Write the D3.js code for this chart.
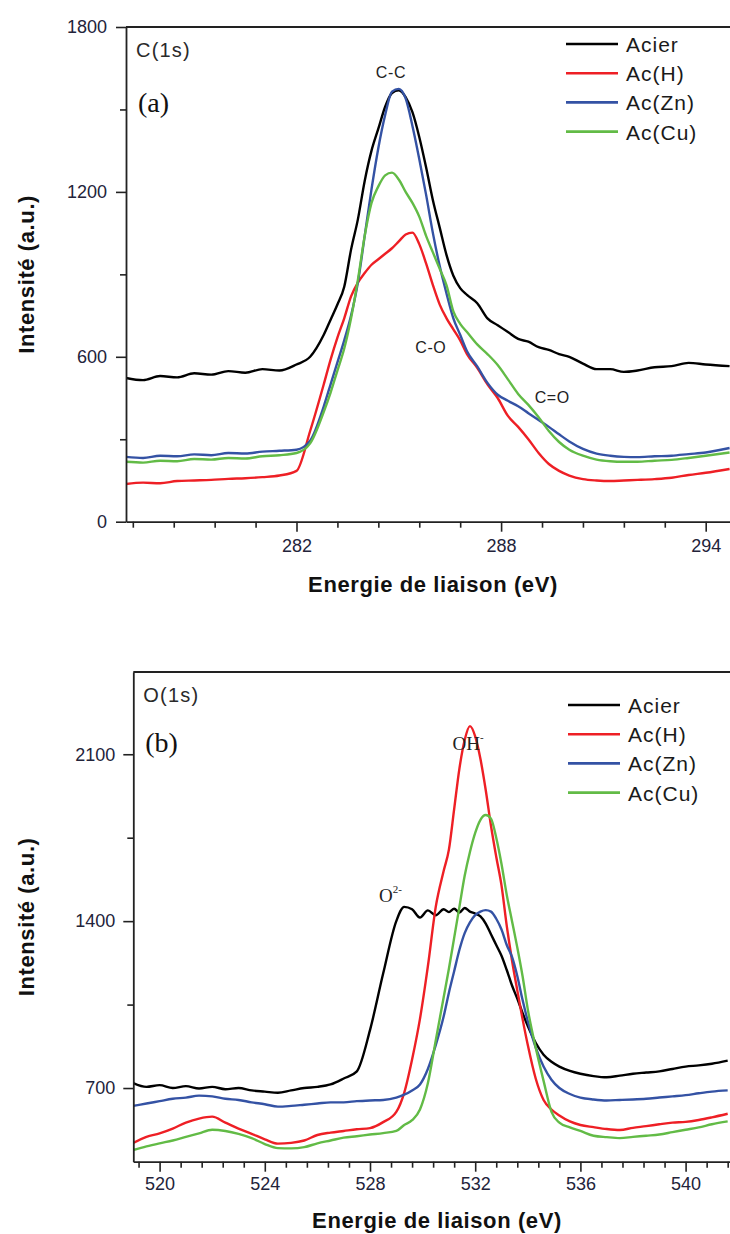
<!DOCTYPE html>
<html>
<head>
<meta charset="utf-8">
<script src="https://cdn.jsdelivr.net/npm/d3@7/dist/d3.min.js"></script>
<style>
  body { margin: 0; background: #fff; }
  svg { display: block; font-family: "Liberation Sans", Arial, sans-serif; }
</style>
</head>
<body>
<div id="chart"></div>
<script>
// ---- data ----
const seriesNames = ["Acier", "Ac(H)", "Ac(Zn)", "Ac(Cu)"];
const seriesColors = ["#000000", "#ee1f25", "#3452a4", "#62bb46"];

// (a) C 1s
const energyA = [277, 277.5, 278, 278.5, 279, 279.5, 280, 280.5, 281, 281.5, 282, 282.4, 282.8,
  283, 283.2, 283.4, 283.6, 283.8, 284, 284.2, 284.4, 284.6, 284.8, 285, 285.2, 285.4, 285.6,
  285.8, 286, 286.2, 286.4, 286.6, 286.8, 287, 287.3, 287.6, 287.9, 288.2, 288.5, 288.8, 289.1,
  289.4, 289.7, 290, 290.4, 290.8, 291.2, 291.6, 292, 292.5, 293, 293.5, 294, 294.7];
const acierA = [523, 515, 530, 525, 540, 535, 548, 542, 555, 550, 572, 600, 680,
  735, 790, 855, 990, 1100, 1240, 1350, 1430, 1510, 1560, 1570, 1545, 1490, 1400,
  1290, 1170, 1070, 970, 895, 850, 825, 795, 740, 715, 690, 665, 655, 635,
  625, 610, 600, 575, 555, 555, 545, 550, 562, 566, 578, 572, 566];
const acHA = [137, 142, 140, 148, 150, 152, 156, 158, 162, 168, 185, 330, 500,
  590, 670, 740, 820, 870, 905, 935, 955, 975, 995, 1020, 1045, 1052, 1010,
  940, 861, 790, 740, 700, 660, 610, 560, 500, 450, 385, 345, 300, 250,
  210, 185, 168, 155, 150, 148, 150, 152, 155, 160, 170, 178, 192];
const acZnA = [236, 232, 240, 238, 245, 242, 250, 248, 255, 258, 262, 295, 420,
  500, 580, 660, 750, 870, 1040, 1210, 1360, 1480, 1565, 1575, 1540, 1440, 1320,
  1190, 1050, 930, 830, 740, 680, 620, 565, 505, 462, 440, 420, 395, 370,
  345, 318, 292, 265, 248, 240, 236, 235, 238, 240, 246, 252, 268];
const acCuA = [218, 215, 222, 220, 228, 226, 232, 230, 238, 242, 250, 285, 400,
  470, 550, 630, 740, 880, 1040, 1160, 1220, 1260, 1270, 1245, 1200, 1160, 1110,
  1040, 980, 920, 860, 765, 720, 690, 645, 610, 570, 518, 465, 425, 380,
  330, 290, 262, 240, 226, 220, 218, 218, 222, 225, 232, 240, 252];

// (b) O 1s
const energyB = [519, 519.5, 520, 520.5, 521, 521.5, 522, 522.5, 523, 523.5, 524, 524.5, 525,
  525.5, 526, 526.5, 527, 527.5, 528, 528.5, 529, 529.3, 529.6, 529.9, 530.2, 530.5, 530.8,
  531, 531.2, 531.4, 531.6, 531.8, 532, 532.2, 532.4, 532.6, 532.8, 533, 533.2, 533.4, 533.6,
  533.8, 534, 534.3, 534.6, 534.9, 535.2, 535.6, 536, 536.5, 537, 537.5, 538, 538.5, 539,
  539.5, 540, 540.5, 541, 541.6];
const acierB = [721, 705, 712, 700, 708, 698, 705, 695, 700, 690, 685, 680, 690,
  700, 705, 715, 740, 770, 943, 1180, 1400, 1460, 1450, 1415, 1445, 1425, 1450,
  1438, 1452, 1436, 1455, 1440, 1432, 1420, 1390, 1345, 1300, 1255, 1195, 1130, 1075,
  1015, 960, 890, 840, 810, 790, 772, 760, 750, 745, 752, 760, 765, 770,
  780, 790, 795, 802, 815];
const acHB = [470, 495, 510, 530, 555, 572, 580, 555, 530, 508, 485, 467, 470,
  480, 503, 513, 520, 527, 532, 557, 600, 680, 820, 990, 1210, 1460, 1610,
  1700, 1870, 2040, 2160, 2218, 2175, 2080, 1950, 1800, 1670, 1550, 1380, 1235, 1110,
  990, 880, 740, 650, 610, 585, 560, 545, 536, 528, 524, 533, 540, 548,
  555, 558, 566, 577, 592];
const acZnB = [625, 635, 645, 655, 660, 668, 665, 655, 650, 640, 632, 622, 625,
  630, 635, 640, 640, 645, 648, 650, 660, 672, 690, 715, 780, 880, 1000,
  1100, 1190, 1280, 1350, 1395, 1425, 1440, 1446, 1440, 1410, 1365, 1300, 1250, 1170,
  1070, 980, 870, 790, 735, 700, 675, 660, 652, 648, 650, 652, 655, 660,
  665, 670, 678, 685, 690];
const acCuB = [440, 455, 468, 480, 495, 510, 525, 520, 508, 490, 465, 448, 447,
  452, 468, 480, 492, 498, 505, 511, 520, 545, 565, 610, 720, 900, 1080,
  1200, 1330, 1460, 1590, 1690, 1770, 1825, 1845, 1830, 1750, 1640, 1510, 1400, 1290,
  1170, 1030, 870, 730, 600, 555, 535, 520, 500, 494, 490, 495, 500, 505,
  515, 525, 535, 548, 560];

const xTicksA = [282, 288, 294];
const yTicksA = [0, 600, 1200, 1800];
const yMinorA = [300, 900, 1500];
const xTicksB = [520, 524, 528, 532, 536, 540];
const yTicksB = [700, 1400, 2100];
const yMinorB = [1050, 1750];

const peaksA = [
  { label: "C-C", e: 284.77, v: 1614, serif: false },
  { label: "C-O", e: 285.94, v: 614, serif: false },
  { label: "C=O", e: 289.5, v: 432, serif: false }
];
const peaksB = [
  { label: "OH", sup: "-", e: 531.73, v: 2118, serif: true },
  { label: "O", sup: "2-", e: 528.34, v: 1480, serif: true }
];

// ---- drawing ----
const svg = d3.select("#chart").append("svg")
  .attr("width", 730)
  .attr("height", 1234);

const ink = "#222";

const drawPanel = function (cfg) {
  const x = d3.scaleLinear().domain(cfg.xDomain).range([cfg.left, cfg.right]);
  const y = d3.scaleLinear().domain(cfg.yDomain).range([cfg.bottom, cfg.top]);

  const g = svg.append("g").attr("class", "panel-" + cfg.id);

  g.append("clipPath").attr("id", "clip-" + cfg.id)
    .append("rect")
      .attr("x", cfg.left).attr("y", cfg.top)
      .attr("width", cfg.right - cfg.left).attr("height", cfg.bottom - cfg.top);

  // spectra
  const line = d3.line()
    .curve(d3.curveMonotoneX)
    .x((d, i) => x(cfg.energy[i]))
    .y(d => y(d));

  g.append("g").attr("clip-path", "url(#clip-" + cfg.id + ")")
    .selectAll("path")
    .data(cfg.series)
    .enter()
    .append("path")
      .attr("d", d => line(d))
      .attr("fill", "none")
      .attr("stroke", (d, i) => seriesColors[i])
      .attr("stroke-width", 2.4)
      .attr("stroke-linejoin", "round");

  // frame top
  g.append("line")
    .attr("x1", cfg.left).attr("x2", cfg.right)
    .attr("y1", cfg.top).attr("y2", cfg.top)
    .attr("stroke", ink).attr("stroke-width", 1.8);

  // minor ticks first
  const xMinor = d3.range(cfg.xDomain[0] + cfg.xMinorOffset, cfg.xDomain[1], cfg.xMinorStep)
    .filter(v => !cfg.xTicks.some(t => Math.abs(t - v) < 0.01));
  g.append("g")
    .attr("transform", "translate(0," + cfg.bottom + ")")
    .call(d3.axisBottom(x).tickValues(xMinor).tickSize(6).tickSizeOuter(0).tickFormat(""))
    .call(a => a.select(".domain").remove())
    .call(a => a.selectAll("line").attr("stroke", ink).attr("stroke-width", 1.6));
  g.append("g")
    .attr("transform", "translate(" + cfg.left + ",0)")
    .call(d3.axisLeft(y).tickValues(cfg.yMinor).tickSize(6).tickSizeOuter(0).tickFormat(""))
    .call(a => a.select(".domain").remove())
    .call(a => a.selectAll("line").attr("stroke", ink).attr("stroke-width", 1.6));

  // major axes
  const fmt = d3.format("d");
  const xAxis = g.append("g")
    .attr("transform", "translate(0," + cfg.bottom + ")")
    .call(d3.axisBottom(x).tickValues(cfg.xTicks).tickFormat(fmt)
      .tickSize(10).tickPadding(cfg.xPad).tickSizeOuter(0));
  const yAxis = g.append("g")
    .attr("transform", "translate(" + cfg.left + ",0)")
    .call(d3.axisLeft(y).tickValues(cfg.yTicks).tickFormat(fmt)
      .tickSize(10).tickPadding(cfg.yPad).tickSizeOuter(0));

  [xAxis, yAxis].forEach(a => {
    a.select(".domain").attr("stroke", ink).attr("stroke-width", 1.8);
    a.selectAll(".tick line").attr("stroke", ink).attr("stroke-width", 1.6);
    a.selectAll(".tick text")
      .attr("fill", "#23233a")
      .attr("font-size", 18)
      .attr("font-family", "'Liberation Sans', Arial, sans-serif");
  });

  // axis titles
  g.append("text")
    .attr("x", cfg.xTitleX).attr("y", cfg.xTitleY)
    .attr("text-anchor", "middle")
    .attr("font-size", 22).attr("font-weight", "bold")
    .attr("letter-spacing", 0.6)
    .attr("fill", "#111")
    .text("Energie de liaison (eV)");

  g.append("text")
    .attr("transform", "translate(34," + (cfg.top + cfg.bottom) / 2 + ") rotate(-90)")
    .attr("text-anchor", "middle")
    .attr("font-size", 22).attr("font-weight", "bold")
    .attr("letter-spacing", 0.6)
    .attr("fill", "#111")
    .text("Intensité (a.u.)");

  // core level and panel tag
  g.append("text")
    .attr("x", cfg.left + 10).attr("y", cfg.top + 30)
    .attr("font-size", 20).attr("letter-spacing", 1.2)
    .attr("fill", "#2a2a2a")
    .text(cfg.level);

  g.append("text")
    .attr("x", cfg.left + 12).attr("y", cfg.top + cfg.tagDy)
    .attr("font-family", "'Liberation Serif', 'Times New Roman', serif")
    .attr("font-size", 28)
    .attr("fill", "#111")
    .text(cfg.tag);

  // peak labels
  cfg.peaks.forEach(p => {
    const t = g.append("text")
      .attr("x", x(p.e)).attr("y", y(p.v))
      .attr("text-anchor", p.sup === "2-" ? "start" : "middle")
      .attr("font-size", p.serif ? 19 : 16)
      .attr("letter-spacing", p.serif ? 0 : 0.6)
      .attr("font-family", p.serif ? "'Liberation Serif', 'Times New Roman', serif" : "'Liberation Sans', Arial, sans-serif")
      .attr("fill", "#222")
      .text(p.label);
    if (p.sup) {
      t.append("tspan")
        .attr("dy", -9)
        .attr("font-size", 11)
        .text(p.sup);
    }
  });

  // legend
  const legend = g.append("g").attr("class", "legend");
  seriesNames.forEach((name, i) => {
    const ly = cfg.legendTop + i * 29.2;
    legend.append("line")
      .attr("x1", cfg.legendX).attr("x2", cfg.legendX + 52)
      .attr("y1", ly).attr("y2", ly)
      .attr("stroke", seriesColors[i]).attr("stroke-width", 2.6);
    legend.append("text")
      .attr("x", cfg.legendX + 60).attr("y", ly + 8)
      .attr("font-size", 21).attr("letter-spacing", 1)
      .attr("fill", "#1a1a1a")
      .text(name);
  });
};

drawPanel({
  id: "a",
  left: 126, right: 739.8, top: 27, bottom: 521.7,
  xDomain: [277, 295], yDomain: [0, 1800],
  xTicks: xTicksA, yTicks: yTicksA, yMinor: yMinorA,
  xMinorOffset: 0.2, xMinorStep: 1.2,
  xPad: 8, yPad: 9,
  energy: energyA,
  series: [acierA, acHA, acZnA, acCuA],
  xTitleX: 433, xTitleY: 592,
  level: "C(1s)", tag: "(a)", tagDy: 85,
  peaks: peaksA,
  legendX: 566, legendTop: 44
});

drawPanel({
  id: "b",
  left: 133.3, right: 738.2, top: 672, bottom: 1161.7,
  xDomain: [519, 542], yDomain: [391, 2445],
  xTicks: xTicksB, yTicks: yTicksB, yMinor: yMinorB,
  xMinorOffset: 0.2, xMinorStep: 0.8,
  xPad: 6, yPad: 8,
  energy: energyB,
  series: [acierB, acHB, acZnB, acCuB],
  xTitleX: 437, xTitleY: 1228,
  level: "O(1s)", tag: "(b)", tagDy: 80,
  peaks: peaksB,
  legendX: 568, legendTop: 705
});
</script>
</body>
</html>
